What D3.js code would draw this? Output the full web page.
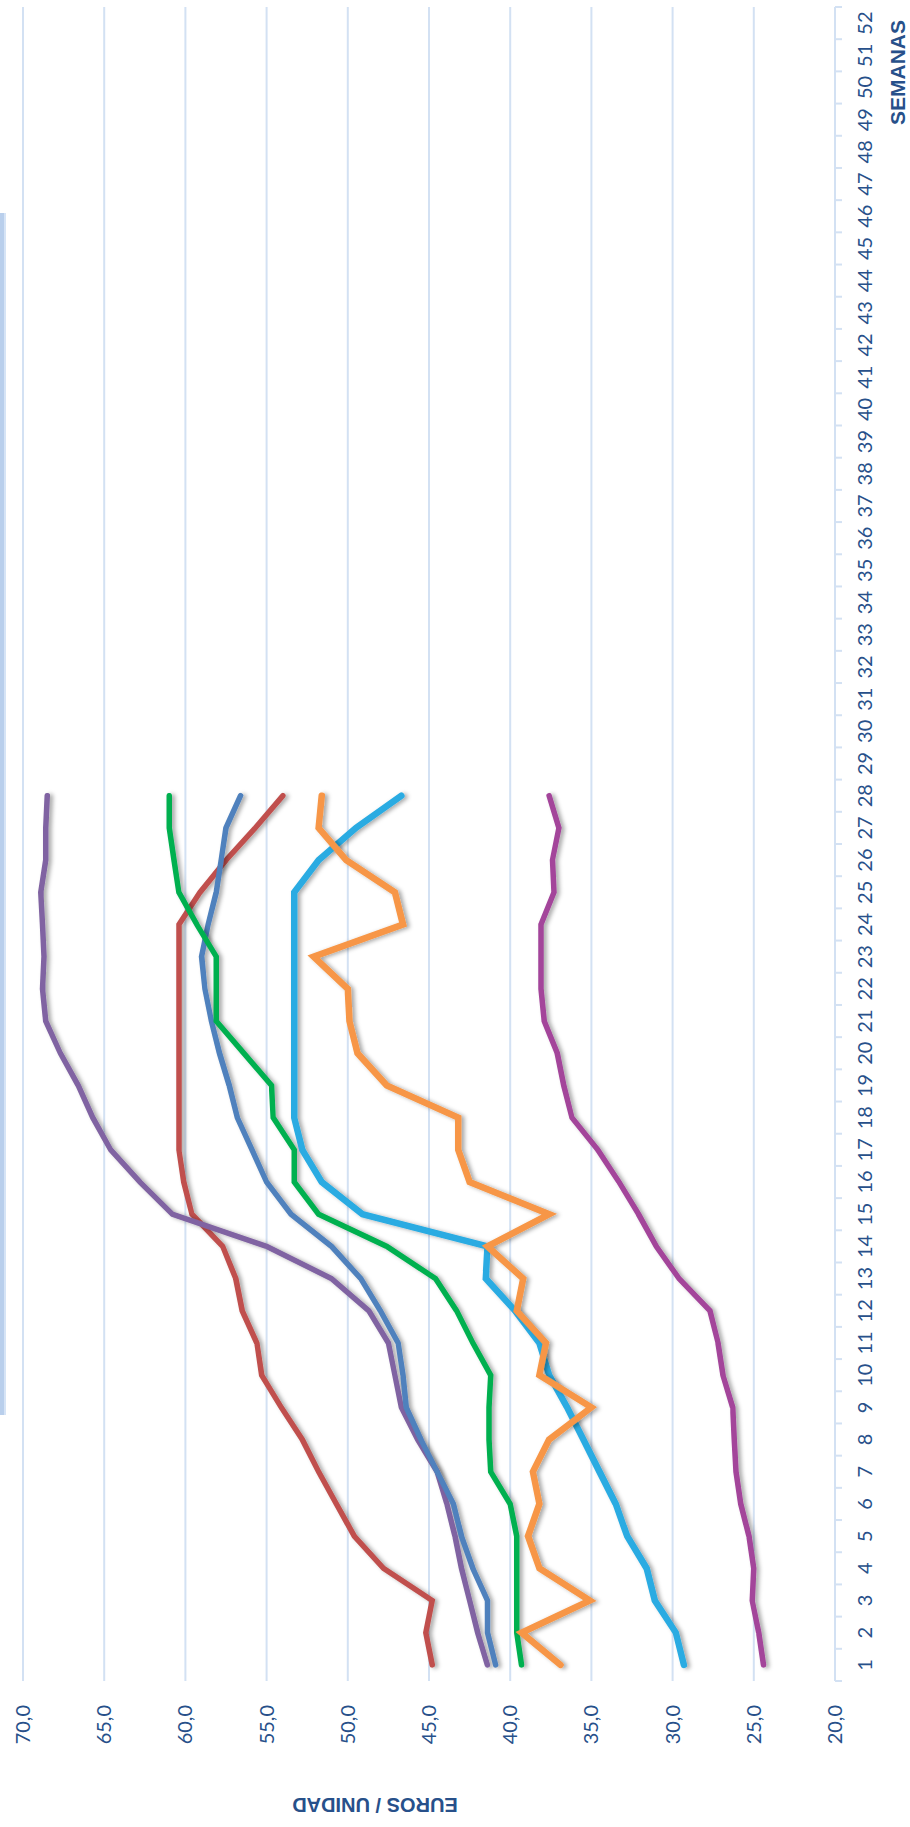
<!DOCTYPE html>
<html>
<head>
<meta charset="utf-8">
<script src="https://cdn.jsdelivr.net/npm/d3@7"></script>
<style>
  html, body { margin: 0; padding: 0; background: #fff; }
  svg { display: block; }
</style>
</head>
<body>
<svg id="chart" width="910" height="1827"></svg>
<script>
// weeks shown on the axis and weeks that have data
const weeks = d3.range(1, 53);
const dataWeeks = d3.range(1, 29);
const valueTicks = [20, 25, 30, 35, 40, 45, 50, 55, 60, 65, 70];

// series values (euros / unidad), weeks 1..28
const red = [44.8, 45.2, 44.8, 47.8, 49.6, 50.7, 51.8, 52.8, 54.1, 55.3, 55.6, 56.5, 56.9, 57.7, 59.6, 60.1, 60.4, 60.4, 60.4, 60.4, 60.4, 60.4, 60.4, 60.4, 59.1, 57.5, 55.7, 54.0];
const purple = [41.4, 42.0, 42.5, 43.0, 43.4, 43.9, 44.5, 45.7, 46.7, 47.1, 47.5, 48.7, 51.0, 55.0, 60.8, 62.8, 64.6, 65.7, 66.6, 67.7, 68.6, 68.8, 68.7, 68.8, 68.9, 68.6, 68.6, 68.5];
const blue = [40.9, 41.4, 41.4, 42.3, 43.0, 43.5, 44.5, 45.5, 46.4, 46.6, 46.9, 48.0, 49.2, 51.0, 53.5, 55.0, 55.9, 56.8, 57.3, 57.9, 58.4, 58.8, 59.0, 58.6, 58.1, 57.8, 57.5, 56.6];
const green = [39.3, 39.6, 39.6, 39.6, 39.6, 40.0, 41.2, 41.3, 41.3, 41.2, 42.3, 43.3, 44.6, 47.6, 51.8, 53.3, 53.3, 54.6, 54.7, 56.4, 58.1, 58.1, 58.1, 59.3, 60.4, 60.7, 61.0, 61.0];
const lightBlue = [29.3, 29.8, 31.1, 31.6, 32.8, 33.5, 34.5, 35.5, 36.5, 37.6, 38.2, 39.7, 41.5, 41.4, 49.1, 51.6, 52.8, 53.3, 53.3, 53.3, 53.3, 53.3, 53.3, 53.3, 53.3, 51.8, 49.5, 46.7];
const orange = [36.9, 39.3, 35.1, 38.2, 38.9, 38.2, 38.6, 37.6, 35.0, 38.2, 37.8, 39.6, 39.2, 41.4, 37.6, 42.5, 43.2, 43.2, 47.6, 49.4, 49.9, 50.0, 52.1, 46.6, 47.1, 50.1, 51.8, 51.6];
const magenta = [24.4, 24.7, 25.1, 25.0, 25.3, 25.8, 26.1, 26.2, 26.3, 26.9, 27.2, 27.7, 29.6, 31.0, 32.1, 33.3, 34.6, 36.2, 36.7, 37.1, 37.9, 38.1, 38.1, 38.1, 37.3, 37.4, 37.0, 37.6];

const series = [
  { values: red, color: "#c0504d", width: 5.5 },
  { values: purple, color: "#8064a2", width: 5.5 },
  { values: blue, color: "#4f81bd", width: 5.5 },
  { values: green, color: "#00b050", width: 5.5 },
  { values: magenta, color: "#a3449a", width: 5.5 },
  { values: lightBlue, color: "#29abe2", width: 6.5 },
  { values: orange, color: "#f79646", width: 6.5 }
];

const textColor = "#27508a";
const gridColor = "#d3e1f3";

const svg = d3.select("#chart");
svg.append("rect").attr("width", 910).attr("height", 1827).attr("fill", "#fff");

// shadow for the lines
const defs = svg.append("defs");
defs.append("filter").attr("id", "shadow")
  .attr("x", "-20%").attr("y", "-20%").attr("width", "140%").attr("height", "140%")
  .append("feDropShadow")
  .attr("dx", -1).attr("dy", 3).attr("stdDeviation", 2)
  .attr("flood-color", "#000").attr("flood-opacity", 0.35);

// legend box edge peeking in at the left
svg.append("rect").attr("x", 0).attr("y", 213).attr("width", 4).attr("height", 1202).attr("fill", "#b9cfec");
svg.append("rect").attr("x", 4).attr("y", 213).attr("width", 2).attr("height", 1202).attr("fill", "#d6e4f6");

// the whole chart is drawn turned a quarter turn counter-clockwise
const g = svg.append("g").attr("transform", "translate(0,1827) rotate(-90)");

const x = d3.scaleBand().domain(weeks).range([146, 1820]).padding(0);
const y = d3.scaleLinear().domain([20, 70]).range([835, 23]);

// gridlines
g.append("g").selectAll("line").data(valueTicks.filter(d => d > 20)).join("line")
  .attr("x1", 146).attr("x2", 1820)
  .attr("y1", d => y(d)).attr("y2", d => y(d))
  .attr("stroke", gridColor).attr("stroke-width", 2);

// value axis labels
const yAxis = g.append("g").attr("transform", "translate(146,0)")
  .call(d3.axisLeft(y).tickValues(valueTicks).tickSize(0).tickPadding(24)
    .tickFormat(d => d.toFixed(1).replace(".", ",")));
yAxis.select(".domain").remove();
yAxis.selectAll("text").attr("fill", textColor).style("font", "20px Lato, sans-serif");

// week axis
g.append("line").attr("x1", 146).attr("x2", 1820).attr("y1", y(20)).attr("y2", y(20))
  .attr("stroke", gridColor).attr("stroke-width", 2);
g.append("g").selectAll("line").data(weeks.concat([53])).join("line")
  .attr("x1", d => d === 53 ? 1820 : x(d)).attr("x2", d => d === 53 ? 1820 : x(d))
  .attr("y1", y(20)).attr("y2", y(20) + 7)
  .attr("stroke", gridColor).attr("stroke-width", 2);

const xAxis = g.append("g").attr("transform", `translate(0,${y(20)})`)
  .call(d3.axisBottom(x).tickSize(0).tickPadding(23));
xAxis.select(".domain").remove();
xAxis.selectAll("text").attr("fill", textColor).style("font", "20px Lato, sans-serif");

// axis titles
g.append("text").attr("x", 1807).attr("y", 905).attr("text-anchor", "end")
  .attr("fill", textColor).style("font", "bold 21px 'Liberation Sans', Arial, sans-serif")
  .text("SEMANAS");
g.append("text").attr("transform", "translate(29,375) rotate(-90)").attr("text-anchor", "middle")
  .attr("fill", textColor).style("font", "bold 20px 'Liberation Sans', Arial, sans-serif")
  .text("EUROS / UNIDAD");

// lines
const line = d3.line()
  .x((d, i) => x(dataWeeks[i]) + x.bandwidth() / 2)
  .y(d => y(d));

g.append("g").selectAll("path").data(series).join("path")
  .attr("d", d => line(d.values))
  .attr("fill", "none")
  .attr("stroke", d => d.color)
  .attr("stroke-width", d => d.width)
  .attr("stroke-linejoin", "miter")
  .attr("stroke-miterlimit", 4)
  .attr("stroke-linecap", "round")
  .attr("filter", "url(#shadow)");
</script>
</body>
</html>
